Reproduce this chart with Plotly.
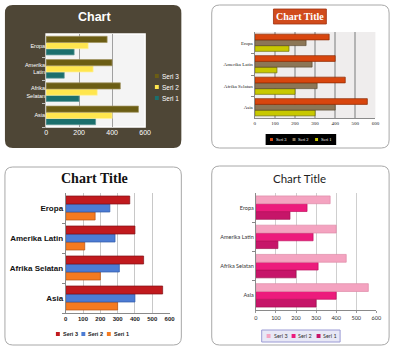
import plotly.graph_objects as go

# ---------------- data ----------------
categories = ["Eropa", "Amerika Latin", "Afrika Selatan", "Asia"]
labels_panel1 = ["Eropa", "Amerika<br>Latin", "Afrika<br>Selatan", "Asia"]
series_names = ["Seri 1", "Seri 2", "Seri 3"]
seri1 = [170, 110, 200, 300]
seri2 = [255, 285, 310, 400]
seri3 = [370, 400, 450, 560]
values = [seri1, seri2, seri3]
ticks_p1 = [0, 200, 400, 600]
ticks_other = [0, 100, 200, 300, 400, 500, 600]

W, H = 400, 353
def px(x): return x / W
def py(y): return 1 - y / H

colors = {
    1: ["#1b6f6d", "#ffe64e", "#6b5d14"],
    2: ["#c8c800", "#8c7656", "#d8460e"],
    3: ["#f47a20", "#4c7cd4", "#c11a1e"],
    4: ["#c61569", "#ec1b7c", "#f4a3c0"],
}
lines = {
    1: ["#5f9a98", "#fff2a0", "#a09460"],
    2: ["#6e6e00", "#5a4a30", "#8a2a00"],
    3: ["#b85010", "#2f5aa8", "#801014"],
    4: ["#a0104f", "#c0105e", "#e08aa8"],
}
domains = {
    1: ([45, 146], [34, 127]),
    2: ([258, 381], [32, 118]),
    3: ([65, 171], [193, 313]),
    4: ([259, 382], [193, 310]),
}

fig = go.Figure()
for p in range(1, 5):
    sfx = "" if p == 1 else str(p)
    for k in range(3):
        fig.add_trace(go.Bar(
            y=categories, x=values[k], orientation="h", name=series_names[k],
            xaxis="x" + sfx, yaxis="y" + sfx, showlegend=False,
            marker=dict(color=colors[p][k], line=dict(color=lines[p][k], width=0.7)),
        ))

layout = dict(
    width=W, height=H, margin=dict(l=0, r=0, t=0, b=0),
    paper_bgcolor="white", plot_bgcolor="rgba(0,0,0,0)",
    barmode="group", bargap=0.2, bargroupgap=0.0,
    shapes=[], annotations=[],
)

axis_style = {
    1: dict(font=dict(family="Liberation Sans", size=7, color="white"), grid="#a0a0a0", gw=1, line=False,
            yfont=dict(family="Liberation Sans", size=5.5, color="white")),
    2: dict(font=dict(family="Liberation Serif", size=5, color="#222"), grid="#b4b4b4", gw=1.5, line=True,
            yfont=dict(family="Liberation Serif", size=5, color="#222")),
    3: dict(font=dict(family="Liberation Sans", size=6, color="#222"), grid="#c8c8c8", gw=1, line=True,
            yfont=dict(family="Liberation Sans", size=8, color="#111")),
    4: dict(font=dict(family="Lato", size=5.5, color="#333"), grid="#cfcfcf", gw=1, line=True,
            yfont=dict(family="Lato", size=5.5, color="#333")),
}

for p in range(1, 5):
    sfx = "" if p == 1 else str(p)
    (x0, x1), (y0, y1) = domains[p]
    st = axis_style[p]
    f = dict(st["font"])
    yf = dict(st["yfont"])
    if p == 3:
        f["weight"] = "bold"
        yf["weight"] = "bold"
    xa = dict(domain=[px(x0), px(x1)], anchor="y" + sfx, range=[0, 600],
              tickvals=ticks_p1 if p == 1 else ticks_other,
              showgrid=True, gridcolor=st["grid"], gridwidth=st["gw"], zeroline=False,
              tickfont=f, ticks="outside" if p == 4 else "", ticklen=2, tickcolor="#999",
              showline=st["line"], linecolor="#8a8a8a", linewidth=1, fixedrange=True)
    ya = dict(domain=[py(y1), py(y0)], anchor="x" + sfx, type="category",
              categoryorder="array", categoryarray=categories[::-1],
              tickvals=categories, ticktext=labels_panel1 if p == 1 else categories,
              tickfont=yf, tickson="boundaries", ticks="outside", ticklen=3,
              tickcolor="#bbbbbb" if p == 1 else "#888", showgrid=False,
              showline=st["line"], linecolor="#8a8a8a", linewidth=1, fixedrange=True)
    layout["xaxis" + sfx] = xa
    layout["yaxis" + sfx] = ya

def rrect(x0, y0, x1, y1, r):
    pts = [
        f"M {px(x0 + r)},{py(y0)}",
        f"L {px(x1 - r)},{py(y0)}",
        f"Q {px(x1)},{py(y0)} {px(x1)},{py(y0 + r)}",
        f"L {px(x1)},{py(y1 - r)}",
        f"Q {px(x1)},{py(y1)} {px(x1 - r)},{py(y1)}",
        f"L {px(x0 + r)},{py(y1)}",
        f"Q {px(x0)},{py(y1)} {px(x0)},{py(y1 - r)}",
        f"L {px(x0)},{py(y0 + r)}",
        f"Q {px(x0)},{py(y0)} {px(x0 + r)},{py(y0)}",
        "Z",
    ]
    return " ".join(pts)

shapes = layout["shapes"]
ann = layout["annotations"]

def text_at(text, x, y, font, xanchor="center"):
    ann.append(dict(text=text, x=px(x), y=py(y), xref="paper", yref="paper", showarrow=False,
                    xanchor=xanchor, yanchor="middle", font=font))

# panel backgrounds
shapes.append(dict(type="path", path=rrect(3, 5, 183, 148, 8), xref="paper", yref="paper",
                   fillcolor="#4e4636", line=dict(width=0), layer="below"))
for (a, b, c, d) in [(214, 5, 395, 148), (3, 167, 183, 345), (214, 166, 395, 345)]:
    shapes.append(dict(type="path", path=rrect(a, b, c, d, 8), xref="paper", yref="paper",
                       fillcolor="white", line=dict(width=1, color="#a8a8a8"), layer="below"))

# plot-area backgrounds
shapes.append(dict(type="rect", xref="x domain", yref="y domain", x0=0, x1=1, y0=0, y1=1,
                   fillcolor="#f4f4f4", line=dict(color="white", width=1.5), layer="below"))
shapes.append(dict(type="rect", xref="x2 domain", yref="y2 domain", x0=0, x1=1, y0=0, y1=1,
                   fillcolor="#efeded", line=dict(width=0), layer="below"))

# titles
text_at("<b>Chart</b>", 94, 17, dict(family="Liberation Sans", size=12.5, color="white"))
shapes.append(dict(type="rect", xref="paper", yref="paper", x0=px(277), x1=px(331), y0=py(24), y1=py(9),
                   fillcolor="#d14b1c", line=dict(width=0.8, color="#a03010"), layer="below"))
text_at("<b>Chart Title</b>", 304, 16.5, dict(family="Liberation Serif", size=10, color="white"))
text_at("<b>Chart Title</b>", 94, 178, dict(family="Liberation Serif", size=14, color="#111"))
text_at("Chart Title", 304, 178, dict(family="Lato", size=11.5, color="#222"))

# legends (manual, compact like the original)
def legend_item(xs, ys, color, text, font, sw=4):
    shapes.append(dict(type="rect", xref="paper", yref="paper",
                       x0=px(xs - sw / 2), x1=px(xs + sw / 2), y0=py(ys + sw / 2), y1=py(ys - sw / 2),
                       fillcolor=color, line=dict(width=0), layer="above"))
    text_at(text, xs + sw / 2 + 1, ys, font, xanchor="left")

# panel 1: vertical legend
for i, k in enumerate([2, 1, 0]):
    legend_item(158, 76 + 11 * i, colors[1][k], series_names[k],
                dict(family="Liberation Sans", size=6.5, color="white"))

# panel 2: black legend box
shapes.append(dict(type="rect", xref="paper", yref="paper", x0=px(269), x1=px(341), y0=py(145), y1=py(134),
                   fillcolor="black", line=dict(width=0), layer="below"))
for i, k in enumerate([2, 1, 0]):
    legend_item(275 + 23 * i, 139.5, colors[2][k], series_names[k],
                dict(family="Liberation Serif", size=4.5, color="white"), sw=3)

# panel 3 legend
for i, k in enumerate([2, 1, 0]):
    legend_item(57 + 26 * i, 334, colors[3][k], "<b>" + series_names[k] + "</b>",
                dict(family="Liberation Sans", size=5.5, color="#222"))

# panel 4 legend box
shapes.append(dict(type="rect", xref="paper", yref="paper", x0=px(265), x1=px(345), y0=py(342), y1=py(330),
                   fillcolor="#e8e8f6", line=dict(width=1, color="#9a9ad4"), layer="below"))
for i, k in enumerate([2, 1, 0]):
    legend_item(272 + 25.5 * i, 336, colors[4][k], series_names[k],
                dict(family="Lato", size=5.5, color="#333"))

fig.update_layout(**layout)
fig.write_html("out.html")
